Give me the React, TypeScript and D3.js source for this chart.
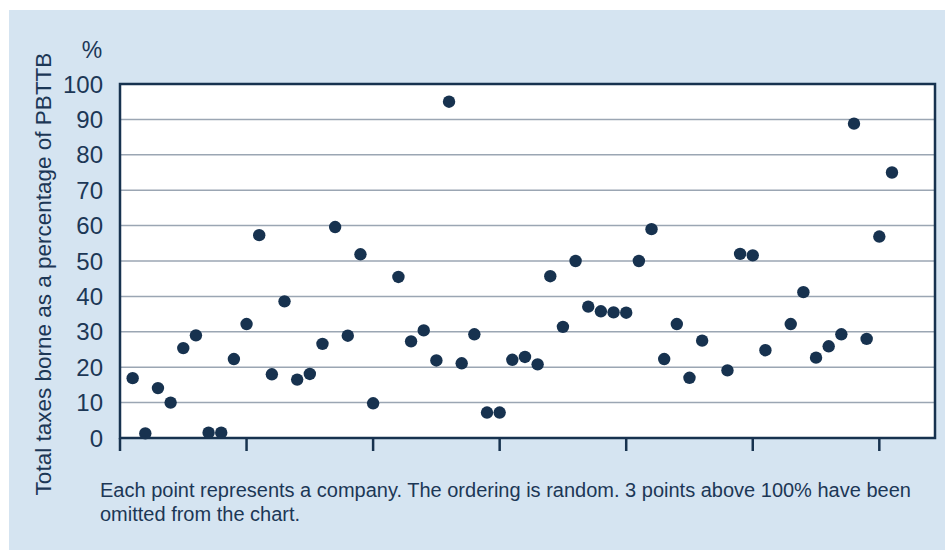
import React from "react";
import * as d3 from "d3";

// Company index (random order) and total taxes borne as % of PBTTB
const companyIndex: number[] = [
  1, 2, 3, 4, 5, 6, 7, 8, 9, 10, 11, 12, 13, 14, 15, 16, 17, 18, 19, 20,
  22, 23, 24, 25, 26, 27, 28, 29, 30, 31, 32, 33, 34, 35, 36, 37, 38, 39, 40,
  41, 42, 43, 44, 45, 46, 48, 49, 50, 51, 53, 54, 55, 56, 57, 58, 59, 60, 61,
];
const taxShare: number[] = [
  16.9, 1.3, 14.1, 10.0, 25.4, 29.0, 1.5, 1.5, 22.3, 32.2, 57.3, 18.0, 38.6, 16.5, 18.1, 26.6, 59.6, 28.9, 51.9, 9.8,
  45.5, 27.3, 30.4, 21.9, 95.0, 21.1, 29.3, 7.2, 7.2, 22.1, 22.9, 20.8, 45.7, 31.4, 50.0, 37.1, 35.8, 35.5, 35.4,
  50.0, 59.0, 22.3, 32.2, 17.0, 27.5, 19.1, 52.0, 51.6, 24.8, 32.2, 41.2, 22.7, 25.9, 29.3, 88.8, 28.0, 56.9, 75.0,
];
const yTicks: number[] = [0, 10, 20, 30, 40, 50, 60, 70, 80, 90, 100];
const xTicks: number[] = [0, 10, 20, 30, 40, 50, 60];

const yTitle = "Total taxes borne as a percentage of PBTTB";
const unitLabel = "%";
const noteLines = [
  "Each point represents a company. The ordering is random. 3 points above 100% have been",
  "omitted from the chart.",
];

export default function App() {
  const W = 945;
  const H = 550;
  const left = 120;
  const right = 935;
  const top = 84;
  const bottom = 438;

  const x = d3.scaleLinear().domain([0, 64.4]).range([left, right]);
  const y = d3.scaleLinear().domain([0, 100]).range([bottom, top]);

  const navy = "#17324f";
  const textCol = "#1c3756";
  const grid = "#9ba6b3";
  const font = "'Liberation Sans', Arial, Helvetica, sans-serif";

  return (
    <svg
      width={W}
      height={H}
      style={{ position: "absolute", left: 0, top: 0, display: "block" }}
    >
      <rect x={0} y={0} width={W} height={H} fill="#ffffff" />
      <rect x={9} y={10} width={W - 9} height={H - 10} fill="#d5e4f1" />
      <rect x={left} y={top} width={right - left} height={bottom - top} fill="#ffffff" />

      {yTicks
        .filter((t) => t > 0 && t < 100)
        .map((t) => (
          <line key={"g" + t} x1={left} x2={right} y1={y(t)} y2={y(t)} stroke={grid} strokeWidth={1.5} />
        ))}

      {xTicks.map((t) => (
        <line key={"xt" + t} x1={x(t)} x2={x(t)} y1={bottom} y2={bottom + 13} stroke={navy} strokeWidth={2.5} />
      ))}

      <rect
        x={left}
        y={top}
        width={right - left}
        height={bottom - top}
        fill="none"
        stroke={navy}
        strokeWidth={2.5}
      />

      {yTicks.map((t) => (
        <text
          key={"yl" + t}
          x={103}
          y={y(t)}
          dy="0.36em"
          textAnchor="end"
          fontFamily={font}
          fontSize={24}
          fill={textCol}
        >
          {t}
        </text>
      ))}
      <text x={92} y={58} textAnchor="middle" fontFamily={font} fontSize={23} fill={textCol}>
        {unitLabel}
      </text>

      <text
        transform={`translate(51,274) rotate(-90)`}
        textAnchor="middle"
        fontFamily={font}
        fontSize={22.5}
        fill={textCol}
      >
        {yTitle}
      </text>

      {companyIndex.map((c, i) => (
        <circle key={"p" + c} cx={x(c)} cy={y(taxShare[i])} r={6.2} fill={navy} />
      ))}

      {noteLines.map((l, i) => (
        <text
          key={"n" + i}
          x={100}
          y={497 + i * 24}
          fontFamily={font}
          fontSize={20}
          fill={textCol}
        >
          {l}
        </text>
      ))}
    </svg>
  );
}
